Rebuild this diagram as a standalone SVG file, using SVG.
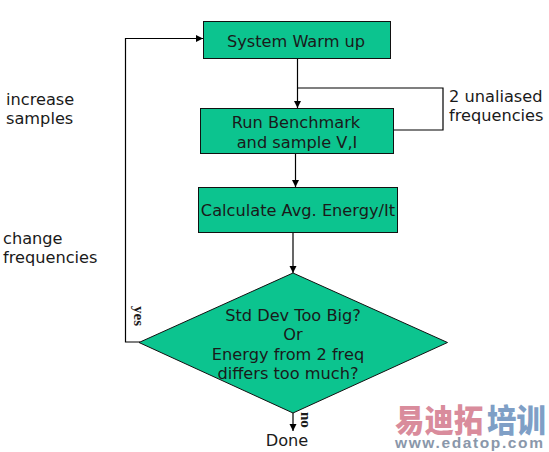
<svg xmlns="http://www.w3.org/2000/svg" width="549" height="452" viewBox="0 0 549 452">
<defs><marker id="a" markerUnits="userSpaceOnUse" markerWidth="8" markerHeight="8" refX="7" refY="3.5" orient="auto"><path d="M0 0L7 3.5L0 7z" fill="#000"/></marker></defs>
<style>
text{font-family:"DejaVu Sans",Verdana,sans-serif;font-size:16.2px;fill:#1a1a1a;text-anchor:middle}
.l{text-anchor:start}
.n{fill:#0cc48f;stroke:#111;stroke-width:1}
.c{fill:none;stroke:#000;stroke-width:1.2}
.s{font-family:"Liberation Serif",serif;font-size:15px;font-weight:bold;text-anchor:start}
.w{font-family:"Noto Sans CJK SC",sans-serif;font-size:30px;font-weight:900;text-anchor:start}
</style>
<rect width="549" height="452" fill="#fff"/>
<g id="connectors">
<path class="c" d="M297.500 58V108" marker-end="url(#a)"/>
<path class="c" d="M297.500 88H443V130H393.500"/>
<path class="c" d="M295.500 153V187" marker-end="url(#a)"/>
<path class="c" d="M293 232V273" marker-end="url(#a)"/>
<path class="c" d="M293 413V431" marker-end="url(#a)"/>
<path class="c" d="M140 342H125.500V38.500H203" marker-end="url(#a)"/>
</g>
<g id="warmup"><rect class="n" x="203.500" y="21.500" width="187" height="37"/><text x="296" y="47">System Warm up</text></g>
<g id="benchmark"><rect class="n" x="200.500" y="108.500" width="193" height="45"/><text x="296" y="128">Run Benchmark</text><text x="297" y="148">and sample V,I</text></g>
<g id="calculate"><rect class="n" x="198.500" y="187.500" width="199" height="45"/><text x="298" y="216">Calculate Avg. Energy/It</text></g>
<g id="decision"><path class="n" d="M293 273L447.500 342.500L293 413L139 342.500Z"/><text x="293" y="321">Std Dev Too Big?</text><text x="293" y="340">Or</text><text x="288" y="360">Energy from 2 freq</text><text x="288" y="379">differs too much?</text></g>
<g id="labels">
<text class="l" x="6" y="105">increase</text><text class="l" x="6" y="124">samples</text>
<text class="l" x="3" y="244">change</text><text class="l" x="3" y="263">frequencies</text>
<text class="l" x="449" y="102">2 unaliased</text><text class="l" x="449" y="121">frequencies</text>
<text x="287" y="446">Done</text>
<text class="s" transform="translate(134,306) rotate(90)">yes</text>
<text class="s" transform="translate(301,412) rotate(90)">no</text>
</g>
<g id="watermark">
<text class="w" transform="translate(395,432) scale(0.98,1.08)" style="fill:#d98c9c">易迪拓</text>
<text class="w" transform="translate(487,432) scale(0.98,1.08)" style="fill:#7f9fc6">培训</text>
<text class="l" x="395" y="448" style="font-family:'Liberation Sans',sans-serif;font-size:15.500px;font-weight:bold;fill:#8a97aa" textLength="148">www.edatop.com</text>
</g>
</svg>
